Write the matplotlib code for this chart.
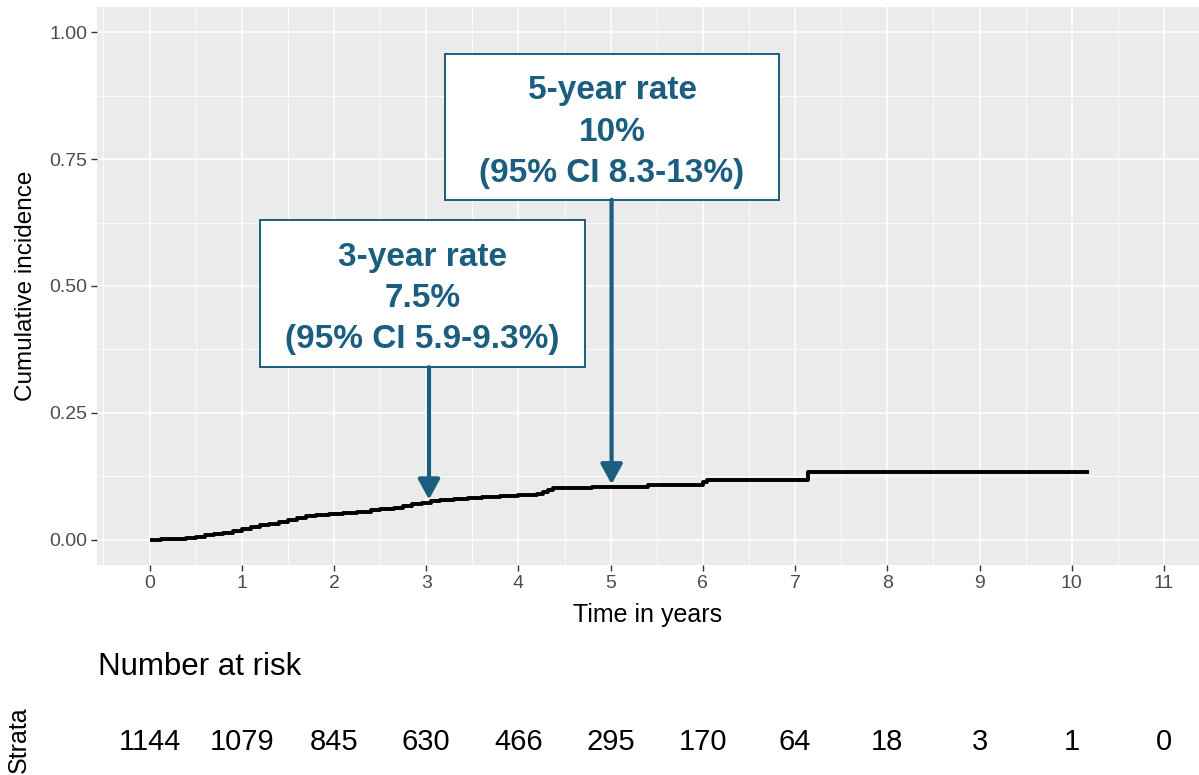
import numpy as np
import matplotlib
matplotlib.use("Agg")
import matplotlib.pyplot as plt
from matplotlib.patches import Rectangle
from matplotlib import transforms

plt.rcParams['font.family'] = ['Liberation Sans', 'DejaVu Sans']

# cumulative incidence step curve
times = [0, 0.12, 0.3, 0.4, 0.5, 0.6, 0.7, 0.8, 0.9, 1.0, 1.1, 1.2, 1.3, 1.4,
         1.5, 1.6, 1.7, 1.8, 1.95, 2.1, 2.25, 2.4, 2.5, 2.65, 2.75, 2.85, 2.95,
         3.05, 3.15, 3.3, 3.45, 3.6, 3.8, 4.0, 4.2, 4.27, 4.32, 4.38, 4.8, 5.4,
         6.0, 6.05, 7.14, 10.19]
cuminc = [0, 0.001, 0.002, 0.004, 0.006, 0.009, 0.012, 0.014, 0.017, 0.021,
          0.025, 0.028, 0.031, 0.035, 0.039, 0.043, 0.047, 0.048, 0.051, 0.053,
          0.055, 0.059, 0.061, 0.063, 0.066, 0.070, 0.073, 0.076, 0.079, 0.081,
          0.083, 0.085, 0.086, 0.088, 0.090, 0.093, 0.097, 0.101, 0.104, 0.107,
          0.113, 0.117, 0.133, 0.133]

# number at risk table
risk_times = list(range(12))
at_risk = [1144, 1079, 845, 630, 466, 295, 170, 64, 18, 3, 1, 0]

# annotations: (time, value at arrow tip, label)
notes_t = [3.03, 5.01]
notes_y = [0.079, 0.109]
notes_txt = ["3-year rate\n7.5%\n(95% CI 5.9-9.3%)",
             "5-year rate\n10%\n(95% CI 8.3-13%)"]
# boxes as (x0, x1, y0, y1) in data units
boxes = [(1.20, 4.72, 0.340, 0.630), (3.20, 6.83, 0.670, 0.957)]

blue = '#1B5E80'

fig = plt.figure(figsize=(11.99, 7.75), dpi=100)
ax = fig.add_axes([97 / 1199, 1 - 565 / 775, (1199 - 97) / 1199, (565 - 7) / 775])
ax.set_facecolor('#EBEBEB')
for s in ax.spines.values():
    s.set_visible(False)

ax.set_xlim(-0.57, 11.38)
ax.set_ylim(-0.05, 1.05)
ax.set_xticks(np.arange(0, 12))
ax.set_xticks(np.arange(-0.5, 11.5, 1), minor=True)
ax.set_yticks([0, 0.25, 0.5, 0.75, 1.0])
ax.set_yticklabels(['0.00', '0.25', '0.50', '0.75', '1.00'])
ax.set_yticks([0.125, 0.375, 0.625, 0.875], minor=True)
ax.grid(which='major', color='white', lw=1.1)
ax.grid(which='minor', color='white', lw=0.55)
ax.set_axisbelow(True)
ax.tick_params(which='major', length=4, width=1, color='#333333',
               labelcolor='#4D4D4D', labelsize=14, pad=3)
ax.tick_params(which='minor', length=0)

ax.set_xlabel('Time in years', fontsize=18, labelpad=8)
ax.set_ylabel('Cumulative incidence', fontsize=17.5, labelpad=9)

ax.plot(times, cuminc, drawstyle='steps-post', color='black', lw=2.8, zorder=3,
        solid_capstyle='butt')

for (x0, x1, y0, y1), tx, ty, txt in zip(boxes, notes_t, notes_y, notes_txt):
    ax.add_patch(Rectangle((x0, y0), x1 - x0, y1 - y0, facecolor='white',
                           edgecolor=blue, lw=1.4, zorder=4))
    ax.text((x0 + x1) / 2, (y0 + y1) / 2 - 0.01, txt, ha='center', va='center',
            fontsize=24, fontweight='bold', color=blue, linespacing=1.42,
            zorder=5)
    ax.annotate('', xy=(tx, ty), xytext=(tx, y0),
                arrowprops=dict(arrowstyle='-|>,head_length=0.55,head_width=0.3',
                                mutation_scale=22, lw=3, color=blue,
                                shrinkA=0, shrinkB=0), zorder=4)

# risk table
trans = transforms.blended_transform_factory(ax.transData, fig.transFigure)
for t, n in zip(risk_times, at_risk):
    fig.text(t, 1 - 742 / 775, str(n), transform=trans, ha='center', va='center',
             fontsize=21)
fig.text(98 / 1199, 1 - 667 / 775, 'Number at risk', ha='left', va='center',
         fontsize=22.5)
fig.text(19 / 1199, 1 - 740 / 775, 'Strata', ha='center', va='center',
         rotation=90, fontsize=18)

fig.savefig('out.png', dpi=100)
